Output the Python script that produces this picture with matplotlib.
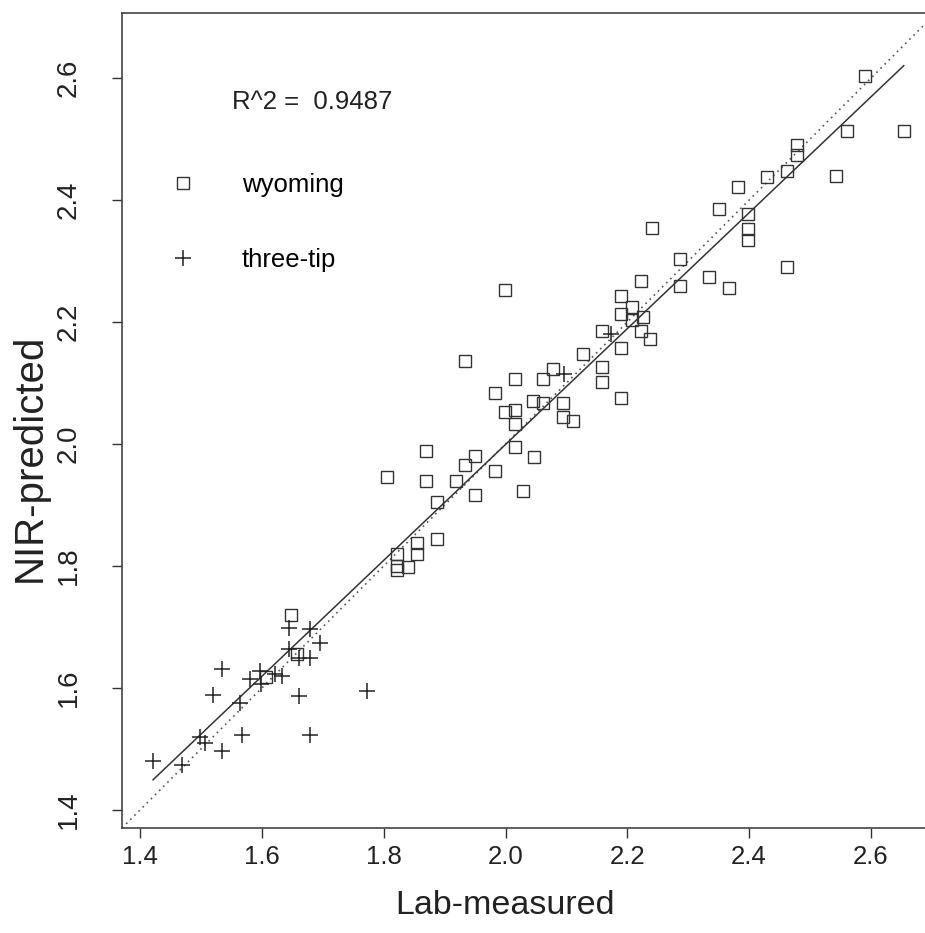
import numpy as np
import matplotlib
matplotlib.use("Agg")
import matplotlib.pyplot as plt

plt.rcParams['font.family'] = ['Liberation Sans', 'DejaVu Sans']

# wyoming samples: lab value vs NIR prediction
wy_lab = [1.647, 1.606, 1.657, 1.822, 1.822, 1.822, 1.839, 1.854, 1.854, 1.887,
          1.806, 1.870, 1.870, 1.887, 1.918, 1.933, 1.949, 1.949, 1.982, 2.029,
          2.046, 2.015, 2.015, 1.999, 2.015, 1.982, 2.045, 2.061, 2.094, 2.094,
          2.111, 1.933, 2.015, 2.061, 2.078, 2.127, 2.158, 2.158, 2.158, 2.190,
          1.999, 2.190, 2.207, 2.190, 2.225, 2.207, 2.222, 2.238, 2.190, 2.223,
          2.286, 2.286, 2.240, 2.334, 2.367, 2.350, 2.382, 2.398, 2.398, 2.398,
          2.430, 2.463, 2.479, 2.479, 2.463, 2.542, 2.560, 2.654, 2.591]
wy_nir = [1.719, 1.617, 1.655, 1.819, 1.800, 1.793, 1.798, 1.838, 1.820, 1.844,
          1.945, 1.988, 1.940, 1.905, 1.940, 1.966, 1.981, 1.916, 1.955, 1.923,
          1.978, 1.995, 2.033, 2.052, 2.056, 2.084, 2.071, 2.068, 2.068, 2.045,
          2.038, 2.136, 2.107, 2.107, 2.123, 2.148, 2.186, 2.126, 2.101, 2.075,
          2.252, 2.242, 2.224, 2.214, 2.208, 2.203, 2.186, 2.173, 2.157, 2.268,
          2.259, 2.304, 2.355, 2.274, 2.256, 2.385, 2.422, 2.377, 2.352, 2.334,
          2.438, 2.447, 2.490, 2.474, 2.291, 2.440, 2.514, 2.514, 2.604]

# three-tip samples
tt_lab = [1.421, 1.469, 1.498, 1.506, 1.534, 1.567, 1.678, 1.519, 1.534, 1.564,
          1.661, 1.773, 1.581, 1.596, 1.598, 1.622, 1.632, 1.644, 1.679, 1.695,
          1.644, 1.661, 1.678, 2.174, 2.096]
tt_nir = [1.480, 1.474, 1.520, 1.510, 1.496, 1.522, 1.522, 1.589, 1.631, 1.575,
          1.586, 1.594, 1.614, 1.627, 1.607, 1.622, 1.619, 1.698, 1.696, 1.674,
          1.664, 1.649, 1.649, 2.180, 2.115]

ticks = [1.4, 1.6, 1.8, 2.0, 2.2, 2.4, 2.6]
r2_text = "R^2 =  0.9487"

lab = np.array(wy_lab + tt_lab)
nir = np.array(wy_nir + tt_nir)

# fitted line over the range of the lab values
b, a = np.polyfit(lab, nir, 1)
xfit = np.array([lab.min(), lab.max()])

W, H = 925, 933
fig = plt.figure(figsize=(W / 100, H / 100), dpi=100)
ax = fig.add_axes([122 / W, (H - 828) / H, 814 / W, 815 / H])

lo = 1.370
hi = 2.707
ax.set_xlim(lo, hi)
ax.set_ylim(lo, hi)

ax.plot([lo, hi], [lo, hi], color='#555555', lw=1.2, ls=(0, (1, 2.5)), zorder=1)
ax.plot(xfit, a + b * xfit, color='#333333', lw=1.1, zorder=2)

ax.plot(wy_lab, wy_nir, ls='none', marker='s', ms=8, mfc='none',
        mec='#333333', mew=1.0, label='wyoming', zorder=3)
ax.plot(tt_lab, tt_nir, ls='none', marker='+', ms=11, mec='#222222',
        mew=1.1, label='three-tip', zorder=3)

ax.set_xticks(ticks)
ax.set_yticks(ticks)
ax.tick_params(direction='out', length=7, width=1, colors='#333333',
               labelcolor='#222222', labelsize=18.5)
ax.tick_params(axis='x', pad=5)
ax.tick_params(axis='y', pad=22, labelsize=20)
for t in ax.get_yticklabels():
    t.set_rotation(90)
    t.set_va('center')

for s in ax.spines.values():
    s.set_color('#444444')
    s.set_linewidth(1.2)

ax.set_xlabel('Lab-measured', fontsize=24.5, color='#222222', va='center')
ax.xaxis.set_label_coords((505 - 122) / 814, -(905 - 828) / 815)
ax.set_ylabel('NIR-predicted', fontsize=29, color='#222222', va='center')
ax.yaxis.set_label_coords(-(122 - 30) / 814, (828 - 458) / 815)

ax.text(0.135, 0.891, r2_text, transform=ax.transAxes, fontsize=18.5,
        color='#222222', va='center', ha='left')

ax.legend(loc='upper left', bbox_to_anchor=(0.043, 0.804), frameon=False,
          fontsize=18.5, borderpad=0, borderaxespad=0, handlelength=2,
          handletextpad=1.3, labelspacing=2.0, numpoints=1)

fig.savefig('out.png', dpi=100)
